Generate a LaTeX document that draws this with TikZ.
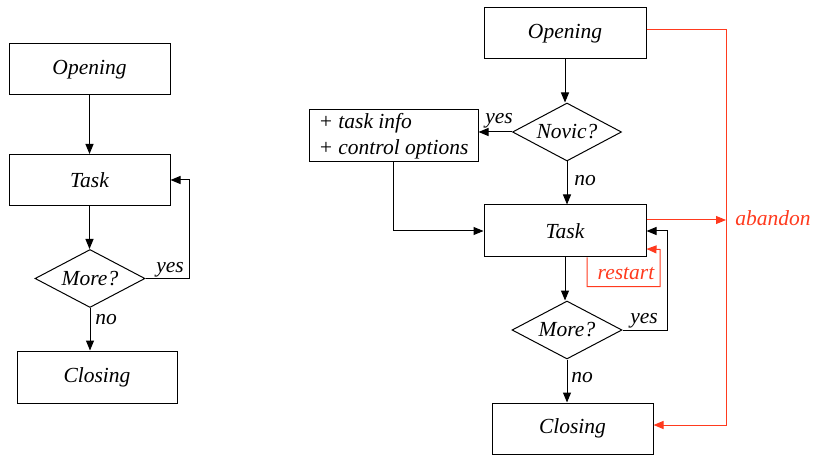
\documentclass[tikz,border=0pt]{standalone}
\usepackage{fontspec}
\setmainfont{Liberation Serif}[ItalicFont={Liberation Serif Italic}]
\newfontfamily\tnrit{Liberation Serif Italic}
\usetikzlibrary{arrows.meta,shapes.geometric}
\definecolor{ared}{HTML}{FF3A1E}
\begin{document}
\begin{tikzpicture}[x=1pt,y=-1pt,
  every node/.style={font=\tnrit\fontsize{21.5}{26}\selectfont},
  box/.style={draw,line width=1pt,minimum width=161pt,minimum height=51pt,inner sep=0pt},
  dia/.style={draw,line width=1pt,diamond,aspect=1.9,minimum width=110pt,minimum height=58pt,inner sep=0pt},
  conn/.style={line width=1pt,-{Triangle[length=10pt,width=8pt]}},
  rconn/.style={line width=1pt,ared,-{Triangle[length=10pt,width=8pt]}},
  lbl/.style={inner sep=0pt},
  rlbl/.style={inner sep=0pt,text=ared}]
\useasboundingbox (0,0) rectangle (814,457);
% left diagram
\node[box] (open1) at (89.5,69.5) {Opening};
\node[box] (task1) at (89.5,180) {Task};
\node[dia] (more1) at (90,278.5) {More?};
\node[box,minimum width=160pt,minimum height=52pt] (close1) at (97,377) {Closing};
\draw[conn] (open1.south) -- (open1.south |- task1.north);
\draw[conn] (task1.south) -- (task1.south |- more1.north);
\draw[conn] (more1.south) -- (more1.south |- close1.north);
\draw[conn] (more1.east) -- ++(44,0) |- (task1.east);
\node[lbl] (yes1) at (170,270) {yes};
\node[lbl] (no1) at (106,320) {no};
% right diagram
\node[box,minimum width=162pt] (open2) at (565,33.5) {Opening};
\node[dia,minimum width=109pt] (novic) at (567,132) {Novic?};
\node[box,minimum width=169pt,minimum height=52pt,align=left] (info) at (393.5,136) {+ task info\\+ control options};
\node[box,minimum width=162pt,minimum height=52pt] (task2) at (565,231) {Task};
\node[dia] (more2) at (567,330) {More?};
\node[box,minimum width=161pt] (close2) at (572.5,428.5) {Closing};
\draw[conn] (open2.south) -- (open2.south |- novic.north);
\draw[conn] (novic.west) -- (novic.west -| info.east);
\draw[conn] (novic.south) -- (novic.south |- task2.north);
\draw[conn] (info.south) |- (task2.west);
\draw[conn] (task2.south) -- (task2.south |- more2.north);
\draw[conn] (more2.south) -- (more2.south |- close2.north);
\draw[conn] (more2.east) -- ++(45,0) |- (task2.east);
\node[lbl] (yes2) at (499,121) {yes};
\node[lbl] (no2) at (585,181) {no};
\node[lbl] (yes3) at (644,321) {yes};
\node[lbl] (no3) at (582,378) {no};
% red
\coordinate (ab) at (726,220);
\draw[rconn] ([xshift=22pt]task2.south) -- ++(0,29) -- ++(73,0) -- ++(0,-37) -- ([yshift=-18pt]task2.east);
\node[rlbl] (restart) at (626,274) {restart};
\draw[rconn] ([yshift=11pt]task2.east) -- (ab);
\draw[rconn] ([yshift=4pt]open2.east) -| (726,425) -- ([yshift=3.5pt]close2.east);
\node[rlbl] (aband) at (773,218) {abandon};
\end{tikzpicture}
\end{document}
